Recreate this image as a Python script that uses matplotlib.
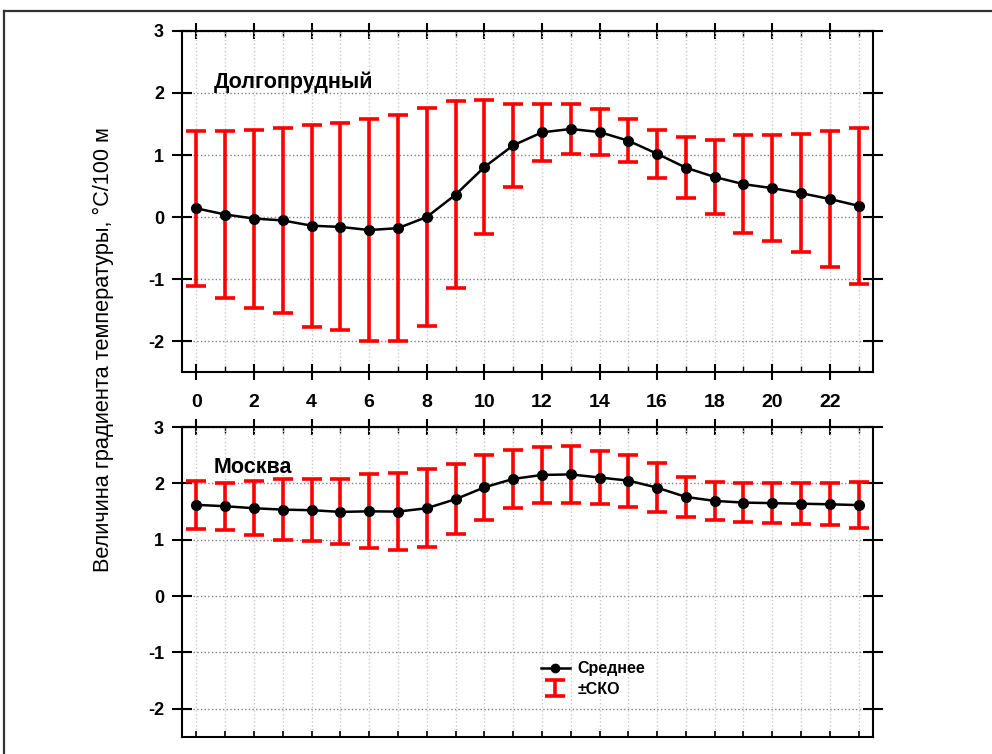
import numpy as np
import matplotlib
matplotlib.use('Agg')
import matplotlib.pyplot as plt
from matplotlib.lines import Line2D
from matplotlib.ticker import MultipleLocator, NullFormatter

plt.rcParams['font.family'] = ['Liberation Sans', 'DejaVu Sans']
plt.rcParams['axes.unicode_minus'] = False

hours = np.arange(24)

# Долгопрудный: mean and SD, degC/100 m
dolgo_mean = [0.14, 0.04, -0.025, -0.055, -0.14, -0.16, -0.21, -0.18, 0.0, 0.36,
              0.805, 1.155, 1.365, 1.42, 1.37, 1.23, 1.02, 0.795, 0.645, 0.53,
              0.465, 0.385, 0.29, 0.18]
dolgo_sd = [1.25, 1.35, 1.435, 1.495, 1.63, 1.67, 1.79, 1.82, 1.76, 1.51,
            1.085, 0.665, 0.465, 0.41, 0.37, 0.35, 0.39, 0.495, 0.595, 0.79,
            0.855, 0.955, 1.10, 1.26]

# Москва
msk_mean = [1.62, 1.595, 1.56, 1.535, 1.525, 1.495, 1.505, 1.50, 1.56, 1.72,
            1.93, 2.08, 2.15, 2.16, 2.105, 2.05, 1.925, 1.76, 1.69, 1.66,
            1.65, 1.64, 1.63, 1.615]
msk_sd = [0.43, 0.415, 0.48, 0.545, 0.555, 0.575, 0.655, 0.68, 0.69, 0.62,
          0.575, 0.51, 0.50, 0.50, 0.475, 0.46, 0.435, 0.36, 0.34, 0.35,
          0.36, 0.36, 0.37, 0.405]

station_names = ['Долгопрудный', 'Москва']
ylabel = 'Величина градиента температуры, °С/100 м'

fig = plt.figure(figsize=(9.92, 7.54), dpi=100)
ax1 = fig.add_axes([0.1835, 0.5066, 0.6966, 0.4523])
ax2 = fig.add_axes([0.1835, 0.0225, 0.6966, 0.4111])


def top_ticks(ax):
    sec = ax.secondary_xaxis('top')
    sec.xaxis.set_major_locator(MultipleLocator(2))
    sec.xaxis.set_minor_locator(MultipleLocator(1))
    sec.xaxis.set_major_formatter(NullFormatter())
    sec.tick_params(which='major', direction='inout', length=12, width=1.5)
    sec.tick_params(which='minor', direction='in', length=4, width=1)
    sec.spines['top'].set_linewidth(1.5)


def draw_panel(ax, mean, sd, name, label_y, show_xlabels):
    eb = ax.errorbar(hours, mean, yerr=sd, fmt='none', ecolor='#ff0000',
                     elinewidth=2.6, capsize=7, capthick=2.6, zorder=3,
                     label='±СКО')
    ln, = ax.plot(hours, mean, color='black', lw=1.8, marker='o', ms=7,
                  zorder=4, label='Среднее')
    ax.set_xlim(-0.5, 23.5)
    ax.set_ylim(-2.5, 3)
    ax.xaxis.set_major_locator(MultipleLocator(2))
    ax.xaxis.set_minor_locator(MultipleLocator(1))
    ax.yaxis.set_major_locator(MultipleLocator(1))
    ax.grid(axis='x', which='both', color='#c8c8c8', ls=':', lw=1)
    ax.grid(axis='y', which='major', color='#808080', ls=':', lw=1)
    ax.set_axisbelow(True)
    for sp in ax.spines.values():
        sp.set_linewidth(1.5)
    ax.tick_params(axis='y', which='major', direction='inout', length=14,
                   width=1.5, right=True, labelsize=13, pad=6)
    ax.tick_params(axis='y', which='minor', left=False, right=False)
    if show_xlabels:
        ax.tick_params(axis='x', which='major', direction='inout', length=12,
                       width=1.5, top=False, pad=10, labelsize=14)
        ax.tick_params(axis='x', which='minor', direction='in', length=4,
                       width=1, top=False)
    else:
        ax.tick_params(axis='x', which='both', direction='in', length=4,
                       width=1.2, top=False, labelbottom=False)
    top_ticks(ax)
    for t in ax.get_xticklabels() + ax.get_yticklabels():
        t.set_fontweight('bold')
    ax.text(0.046, label_y, name, transform=ax.transAxes, fontsize=15.5,
            fontweight='bold', va='center', ha='left')
    return ln, eb


draw_panel(ax1, dolgo_mean, dolgo_sd, station_names[0], 0.85, True)
ln, eb = draw_panel(ax2, msk_mean, msk_sd, station_names[1], 0.868, False)

leg_line = Line2D([], [], color='black', lw=1.8, marker='o', ms=6)
leg = ax2.legend(handles=[leg_line, eb], labels=['Среднее', '±СКО'],
                 loc='upper left', bbox_to_anchor=(0.51, 0.265), frameon=False,
                 prop={'weight': 'bold', 'size': 11.5}, handlelength=1.8,
                 handletextpad=0.5, labelspacing=0.35, borderaxespad=0)

fig.text(0.104, 0.536, ylabel, rotation=90, fontsize=15.7, ha='center',
         va='center')

# outer frame
fig.add_artist(Line2D([0.004, 0.004], [0.0, 0.985], transform=fig.transFigure,
                      color='#333333', lw=1.6))
fig.add_artist(Line2D([0.004, 1.0], [0.985, 0.985], transform=fig.transFigure,
                      color='#333333', lw=1.6))

fig.savefig('out.png', dpi=100)
